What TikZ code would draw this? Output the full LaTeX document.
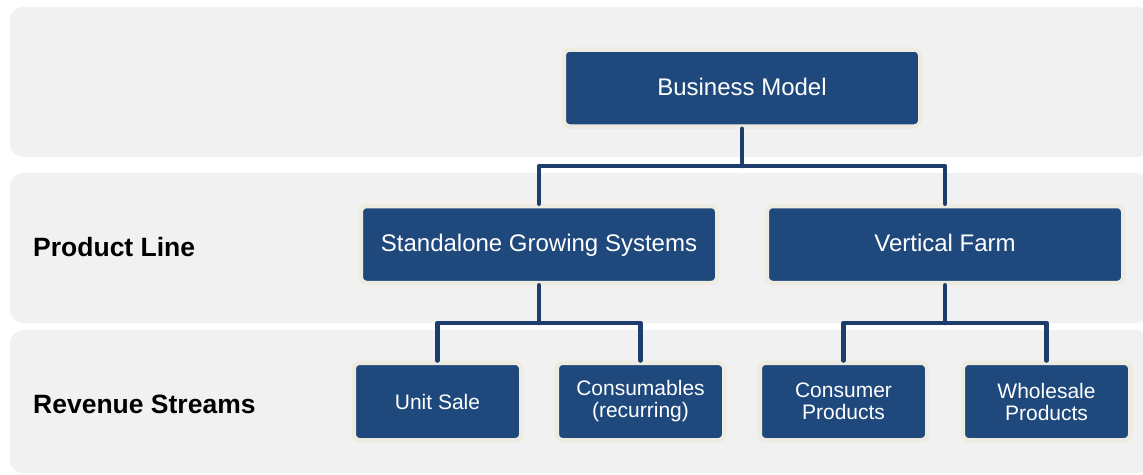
\documentclass[tikz,border=0pt]{standalone}
\usepackage{fontspec}
\setmainfont{Liberation Sans}
\usetikzlibrary{calc}

\definecolor{bandgray}{HTML}{F1F1F1}
\definecolor{boxblue}{HTML}{1F497D}
\definecolor{boxrim}{HTML}{EEECE1}
\definecolor{linkblue}{HTML}{1D3E6C}

\begin{document}
\begin{tikzpicture}[x=1pt, y=-1pt, line cap=round, line join=round,
    band/.style={fill=bandgray, rounded corners=13pt},
    topbox/.style={fill=boxblue, draw=boxrim, line width=4.5pt, rounded corners=6pt,
        text=white, minimum width=356.5pt, minimum height=77pt,
        text height=17.5pt, text depth=3pt, font=\fontsize{24}{28}\selectfont},
    leafbox/.style={fill=boxblue, draw=boxrim, line width=4.5pt, rounded corners=6pt,
        text=white, align=center, minimum width=167.5pt, minimum height=77.5pt,
        inner sep=0pt, font=\fontsize{21}{22}\selectfont},
    rowlabel/.style={anchor=west, inner sep=0pt, font=\fontsize{26.5}{28}\selectfont\bfseries},
    link/.style={draw=linkblue, line width=4.5pt}]

    \useasboundingbox (0,0) rectangle (1143,474);

    % bands
    \fill[band] (10,7)   rectangle (1150,157);
    \fill[band] (10,173) rectangle (1150,323);
    \fill[band] (10,330) rectangle (1150,473);

    % row labels
    \node[rowlabel] (lblproduct) at (33,247) {Product Line};
    \node[rowlabel] (lblrevenue) at (33,404) {Revenue Streams};

    %--- boxes
    \node[topbox] (bm)  at (742,88)    {Business Model};
    \node[topbox] (sgs) at (539,244.5) {Standalone Growing Systems};
    \node[topbox] (vf)  at (945,244.5) {Vertical Farm};

    \node[leafbox] (unit)      at (437.5,401.5)  {Unit Sale};
    \node[leafbox] (consum)    at (640.5,401.5)  {Consumables\\(recurring)};
    \node[leafbox] (consumer)  at (843.5,401.5)  {Consumer\\Products};
    \node[leafbox] (wholesale) at (1046.5,401.5) {Wholesale\\Products};

    %--- the joints where the connectors split
    \coordinate (bmsplit)  at (742,166);
    \coordinate (sgssplit) at (539,323);
    \coordinate (vfsplit)  at (945,323);

    %--- connectors
    \draw[link] (bm.south) -- (bmsplit);
    \draw[link] (bmsplit) -| (sgs.north);
    \draw[link] (bmsplit) -| (vf.north);
    \draw[link] (sgs.south) -- (sgssplit);
    \draw[link] (sgssplit) -| (unit.north);
    \draw[link] (sgssplit) -| (consum.north);
    \draw[link] (vf.south) -- (vfsplit);
    \draw[link] (vfsplit) -| (consumer.north);
    \draw[link] (vfsplit) -| (wholesale.north);

\end{tikzpicture}
\end{document}
